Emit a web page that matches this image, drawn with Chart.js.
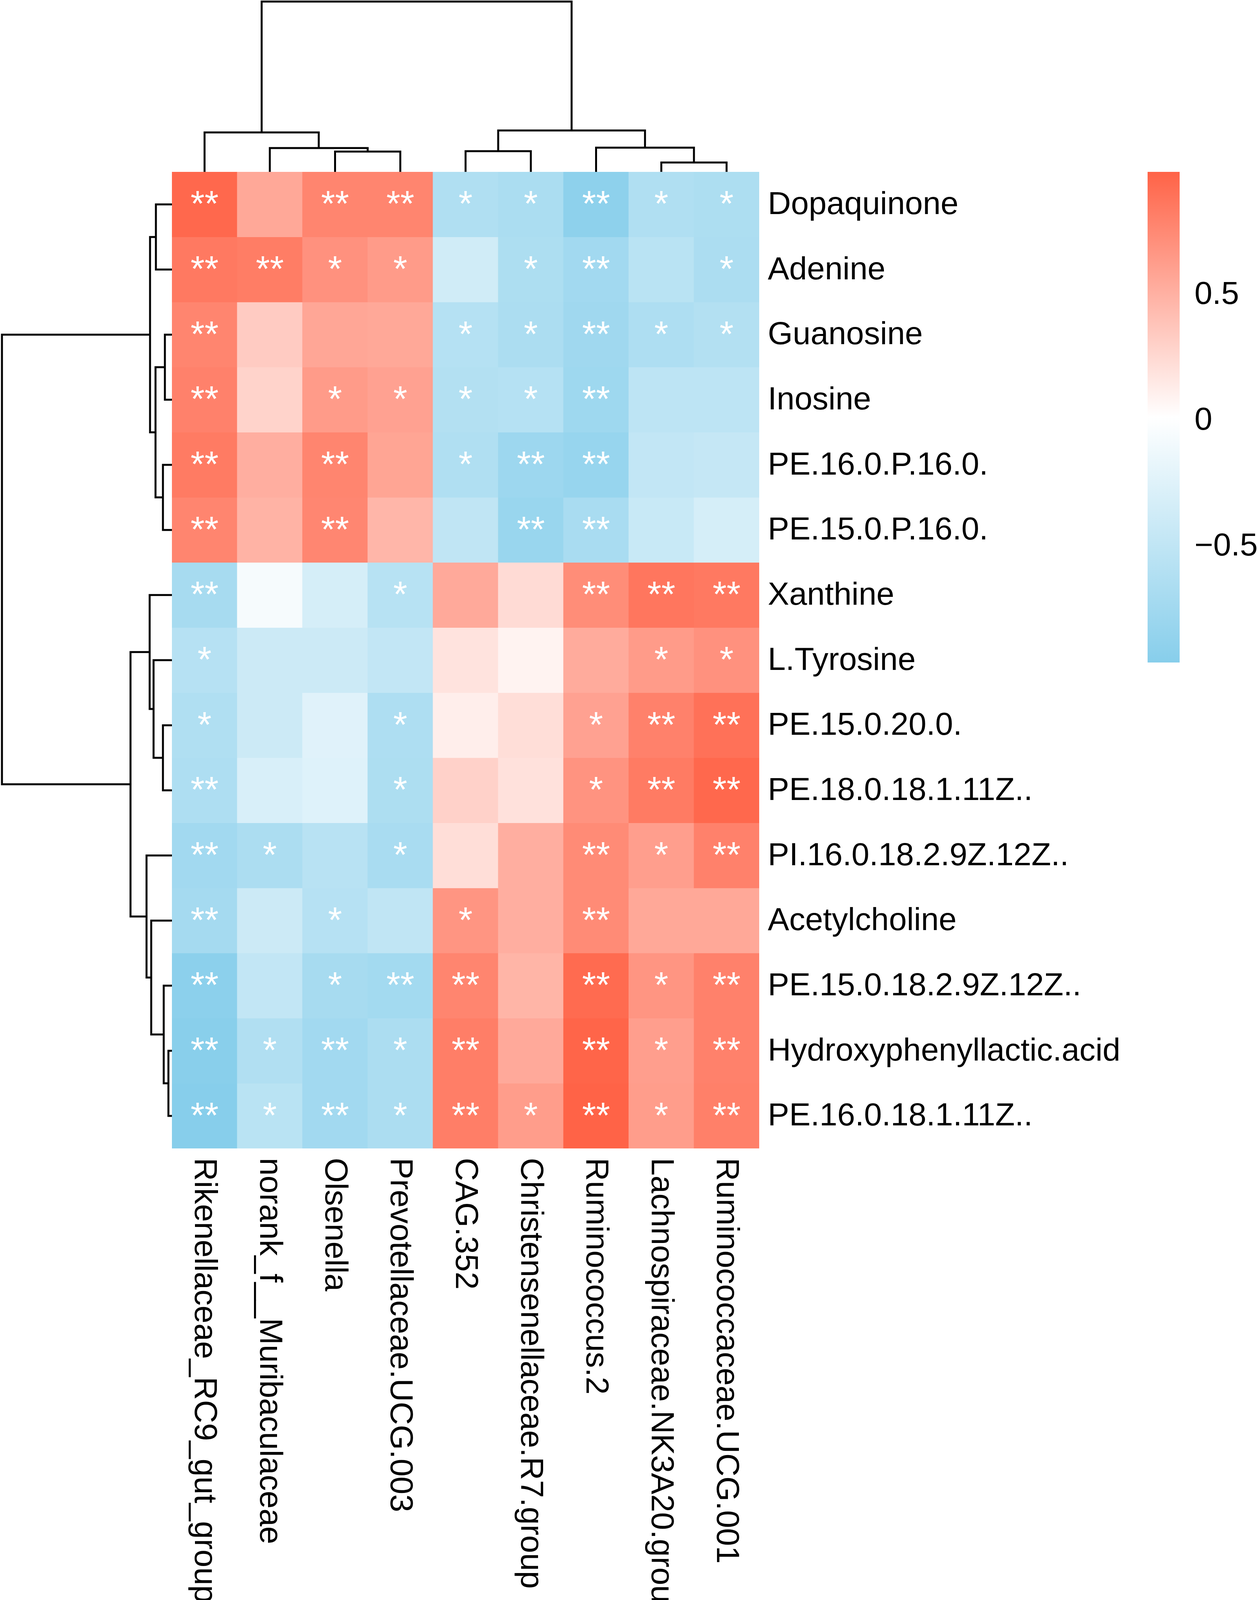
<!DOCTYPE html>
<html>
<head>
<meta charset="utf-8">
<script src="https://cdn.jsdelivr.net/npm/chart.js@4.4.0/dist/chart.umd.min.js"></script>
<style>
    html, body { margin: 0; padding: 0; background: #ffffff; }
    #page { position: relative; width: 3217px; height: 4167px; overflow: hidden; }
    canvas { position: absolute; }
</style>
</head>
<body>
<div id="page">
    <canvas id="heatmap" width="3217" height="4167" style="left:0;top:0"></canvas>
    <canvas id="colTree" width="1503" height="440" style="left:440px;top:0"></canvas>
    <canvas id="rowTree" width="440" height="2500" style="left:0;top:440px"></canvas>
    <canvas id="legendBar" width="280" height="1256" style="left:2937px;top:440px"></canvas>
</div>
<script>
// ---- data (display order, top to bottom / left to right) ----
const rowLabels = [
    "Dopaquinone", "Adenine", "Guanosine", "Inosine", "PE.16.0.P.16.0.",
    "PE.15.0.P.16.0.", "Xanthine", "L.Tyrosine", "PE.15.0.20.0.", "PE.18.0.18.1.11Z..",
    "PI.16.0.18.2.9Z.12Z..", "Acetylcholine", "PE.15.0.18.2.9Z.12Z..",
    "Hydroxyphenyllactic.acid", "PE.16.0.18.1.11Z.."
];
const colLabels = [
    "Rikenellaceae_RC9_gut_group", "norank_f__Muribaculaceae", "Olsenella",
    "Prevotellaceae.UCG.003", "CAG.352", "Christensenellaceae.R7.group",
    "Ruminococcus.2", "Lachnospiraceae.NK3A20.group", "Ruminococcaceae.UCG.001"
];

// correlation values, one array per metabolite
const dopaquinone   = [0.96, 0.56, 0.78, 0.78, -0.63, -0.67, -0.90, -0.63, -0.65];
const adenine       = [0.85, 0.83, 0.70, 0.64, -0.37, -0.65, -0.74, -0.55, -0.66];
const guanosine     = [0.78, 0.34, 0.57, 0.56, -0.59, -0.66, -0.76, -0.64, -0.60];
const inosine       = [0.80, 0.29, 0.64, 0.60, -0.60, -0.59, -0.77, -0.52, -0.52];
const pe160p160     = [0.84, 0.52, 0.78, 0.58, -0.63, -0.78, -0.83, -0.48, -0.46];
const pe150p160     = [0.78, 0.49, 0.77, 0.47, -0.50, -0.81, -0.68, -0.43, -0.33];
const xanthine      = [-0.70, -0.06, -0.33, -0.57, 0.55, 0.24, 0.73, 0.87, 0.85];
const lTyrosine     = [-0.58, -0.40, -0.40, -0.48, 0.19, 0.09, 0.54, 0.64, 0.70];
const pe150200      = [-0.63, -0.40, -0.24, -0.64, 0.12, 0.22, 0.60, 0.80, 0.90];
const pe180181      = [-0.64, -0.30, -0.25, -0.65, 0.30, 0.20, 0.69, 0.84, 0.96];
const pi160182      = [-0.74, -0.66, -0.56, -0.68, 0.22, 0.52, 0.74, 0.62, 0.80];
const acetylcholine = [-0.72, -0.40, -0.58, -0.50, 0.68, 0.52, 0.74, 0.56, 0.56];
const pe150182      = [-0.92, -0.48, -0.70, -0.73, 0.78, 0.48, 0.94, 0.68, 0.80];
const hydroxyphenyl = [-0.94, -0.62, -0.74, -0.66, 0.82, 0.55, 0.98, 0.62, 0.80];
const pe160181      = [-0.96, -0.55, -0.74, -0.66, 0.82, 0.63, 0.99, 0.63, 0.81];

// significance marks, one array per metabolite
const sigDopaquinone   = ["**", "", "**", "**", "*", "*", "**", "*", "*"];
const sigAdenine       = ["**", "**", "*", "*", "", "*", "**", "", "*"];
const sigGuanosine     = ["**", "", "", "", "*", "*", "**", "*", "*"];
const sigInosine       = ["**", "", "*", "*", "*", "*", "**", "", ""];
const sigPe160p160     = ["**", "", "**", "", "*", "**", "**", "", ""];
const sigPe150p160     = ["**", "", "**", "", "", "**", "**", "", ""];
const sigXanthine      = ["**", "", "", "*", "", "", "**", "**", "**"];
const sigLTyrosine     = ["*", "", "", "", "", "", "", "*", "*"];
const sigPe150200      = ["*", "", "", "*", "", "", "*", "**", "**"];
const sigPe180181      = ["**", "", "", "*", "", "", "*", "**", "**"];
const sigPi160182      = ["**", "*", "", "*", "", "", "**", "*", "**"];
const sigAcetylcholine = ["**", "", "*", "", "*", "", "**", "", ""];
const sigPe150182      = ["**", "", "*", "**", "**", "", "**", "*", "**"];
const sigHydroxyphenyl = ["**", "*", "**", "*", "**", "", "**", "*", "**"];
const sigPe160181      = ["**", "*", "**", "*", "**", "*", "**", "*", "**"];

// dendrograms in hclust "merge" form: negative = leaf position (1-based), positive = earlier merge
const colMerge  = [[-3, -4], [-8, -9], [-5, -6], [-2, 1], [-7, 2], [-1, 4], [3, 5], [6, 7]];
const colHeight = [0.52, 0.24, 0.53, 0.61, 0.62, 1.01, 1.06, 4.36];
const rowMerge  = [[-14, -15], [-3, -4], [-13, 1], [-5, -6], [-9, -10], [-1, -2], [2, 4],
                   [-8, 5], [-12, 3], [6, 7], [-7, 8], [-11, 9], [11, 12], [10, 13]];
const rowHeight = [0.09, 0.18, 0.21, 0.23, 0.23, 0.41, 0.42, 0.47, 0.53, 0.56, 0.57, 0.65, 1.06, 4.35];

const legendTicks = [-0.5, 0, 0.5];

// ---- helpers ----
const corrRows = [dopaquinone, adenine, guanosine, inosine, pe160p160, pe150p160, xanthine,
    lTyrosine, pe150200, pe180181, pi160182, acetylcholine, pe150182, hydroxyphenyl, pe160181];
const sigRows = [sigDopaquinone, sigAdenine, sigGuanosine, sigInosine, sigPe160p160, sigPe150p160,
    sigXanthine, sigLTyrosine, sigPe150200, sigPe180181, sigPi160182, sigAcetylcholine,
    sigPe150182, sigHydroxyphenyl, sigPe160181];

const FONT = '"Liberation Sans", Arial, Helvetica, sans-serif';
const LOW = [135, 206, 235];   // skyblue
const HIGH = [255, 99, 71];    // tomato
const allValues = corrRows.flat();
const vMin = Math.min(...allValues);
const vMax = Math.max(...allValues);

Chart.defaults.font.family = FONT;
Chart.defaults.color = "#000";

function mix(c, t) {
    const r = Math.round(255 + (c[0] - 255) * t);
    const g = Math.round(255 + (c[1] - 255) * t);
    const b = Math.round(255 + (c[2] - 255) * t);
    return `rgb(${r},${g},${b})`;
}

// skyblue -> white -> tomato over the data range, like pheatmap's breaks
function cellColor(v) {
    const mid = (vMin + vMax) / 2;
    if (v >= mid) return mix(HIGH, (v - mid) / (vMax - mid));
    return mix(LOW, (mid - v) / (mid - vMin));
}

// turn a merge table into U-shaped polylines
function dendroSegments(merge, heights) {
    const nodes = [];
    const node = id => id < 0 ? { p: -id - 0.5, h: 0 } : nodes[id - 1];
    return merge.map(([a, b], i) => {
        const A = node(a), B = node(b), h = heights[i];
        nodes.push({ p: (A.p + B.p) / 2, h: h });
        return [[A.p, A.h], [A.p, h], [B.p, h], [B.p, B.h]];
    });
}

const baseOptions = {
    responsive: false,
    devicePixelRatio: 1,
    animation: false,
    events: [],
    layout: { padding: 0 },
    plugins: { legend: { display: false }, tooltip: { enabled: false } }
};

// ---- heatmap ----
const cellLabels = {
    id: "cellLabels",
    afterDatasetsDraw(chart) {
        const { ctx, chartArea, scales } = chart;
        ctx.save();
        // significance stars
        ctx.fillStyle = "#ffffff";
        ctx.textAlign = "center";
        ctx.textBaseline = "alphabetic";
        ctx.font = `92px ${FONT}`;
        sigRows.forEach((row, r) => {
            const cy = scales.y.getPixelForValue(r + 0.5);
            row.forEach((s, c) => {
                if (s) ctx.fillText(s, scales.x.getPixelForValue(c), cy + 30);
            });
        });
        // row labels on the right
        ctx.fillStyle = "#000";
        ctx.font = `82px ${FONT}`;
        ctx.textAlign = "left";
        ctx.textBaseline = "middle";
        rowLabels.forEach((lab, r) => {
            ctx.fillText(lab, chartArea.right + 22, scales.y.getPixelForValue(r + 0.5) + 2);
        });
        // column labels, reading downwards
        colLabels.forEach((lab, c) => {
            ctx.save();
            ctx.translate(scales.x.getPixelForValue(c) - 2, chartArea.bottom + 24);
            ctx.rotate(Math.PI / 2);
            ctx.fillText(lab, 0, 0);
            ctx.restore();
        });
        ctx.restore();
    }
};

new Chart(document.getElementById("heatmap"), {
    type: "bar",
    data: {
        labels: colLabels,
        datasets: corrRows.map((vals, r) => ({
            label: rowLabels[r],
            data: vals.map(() => [r, r + 1]),
            backgroundColor: vals.map(cellColor),
            borderWidth: 0,
            barPercentage: 1,
            categoryPercentage: 1,
            grouped: false
        }))
    },
    options: {
        ...baseOptions,
        layout: { padding: { left: 440, top: 440, right: 3217 - 1943, bottom: 4167 - 2940 } },
        scales: {
            x: { display: false },
            y: { display: false, min: 0, max: rowLabels.length, reverse: true }
        }
    },
    plugins: [cellLabels]
});

// ---- dendrograms ----
function treeDatasets(segs, swap) {
    return segs.map(seg => ({
        data: seg.map(([p, h]) => swap ? { x: h, y: p } : { x: p, y: h }),
        showLine: true,
        borderColor: "#000",
        borderWidth: 5,
        pointRadius: 0,
        tension: 0,
        borderJoinStyle: "miter",
        clip: false
    }));
}

new Chart(document.getElementById("colTree"), {
    type: "scatter",
    data: { datasets: treeDatasets(dendroSegments(colMerge, colHeight), false) },
    options: {
        ...baseOptions,
        scales: {
            x: { display: false, min: 0, max: colLabels.length },
            y: { display: false, min: 0, max: Math.max(...colHeight) * 1.0092 }
        }
    }
});

new Chart(document.getElementById("rowTree"), {
    type: "scatter",
    data: { datasets: treeDatasets(dendroSegments(rowMerge, rowHeight), true) },
    options: {
        ...baseOptions,
        scales: {
            x: { display: false, min: 0, max: Math.max(...rowHeight) * 1.0115, reverse: true },
            y: { display: false, min: 0, max: rowLabels.length, reverse: true }
        }
    }
});

// ---- colour key ----
new Chart(document.getElementById("legendBar"), {
    type: "bar",
    data: {
        labels: [""],
        datasets: [{
            data: [[vMin, vMax]],
            backgroundColor: ctx => {
                const area = ctx.chart.chartArea;
                if (!area) return mix(LOW, 1);
                const g = ctx.chart.ctx.createLinearGradient(0, area.bottom, 0, area.top);
                g.addColorStop(0, mix(LOW, 1));
                g.addColorStop(0.5, "#ffffff");
                g.addColorStop(1, mix(HIGH, 1));
                return g;
            },
            borderWidth: 0,
            barPercentage: 1,
            categoryPercentage: 1
        }]
    },
    options: {
        ...baseOptions,
        scales: {
            x: { display: false },
            y: {
                position: "right",
                min: vMin,
                max: vMax,
                grid: { display: false, drawTicks: false },
                border: { display: false },
                afterBuildTicks: scale => { scale.ticks = legendTicks.map(v => ({ value: v })); },
                afterFit: scale => {
                    // keep the key full height: no room reserved for half-labels
                    scale.width = 198;
                    scale.paddingTop = 0;
                    scale.paddingBottom = 0;
                },
                ticks: {
                    padding: 38,
                    color: "#000",
                    font: { size: 82 },
                    callback: v => v < 0 ? "\u2212" + Math.abs(v) : String(v)
                }
            }
        }
    }
});
</script>
</body>
</html>
